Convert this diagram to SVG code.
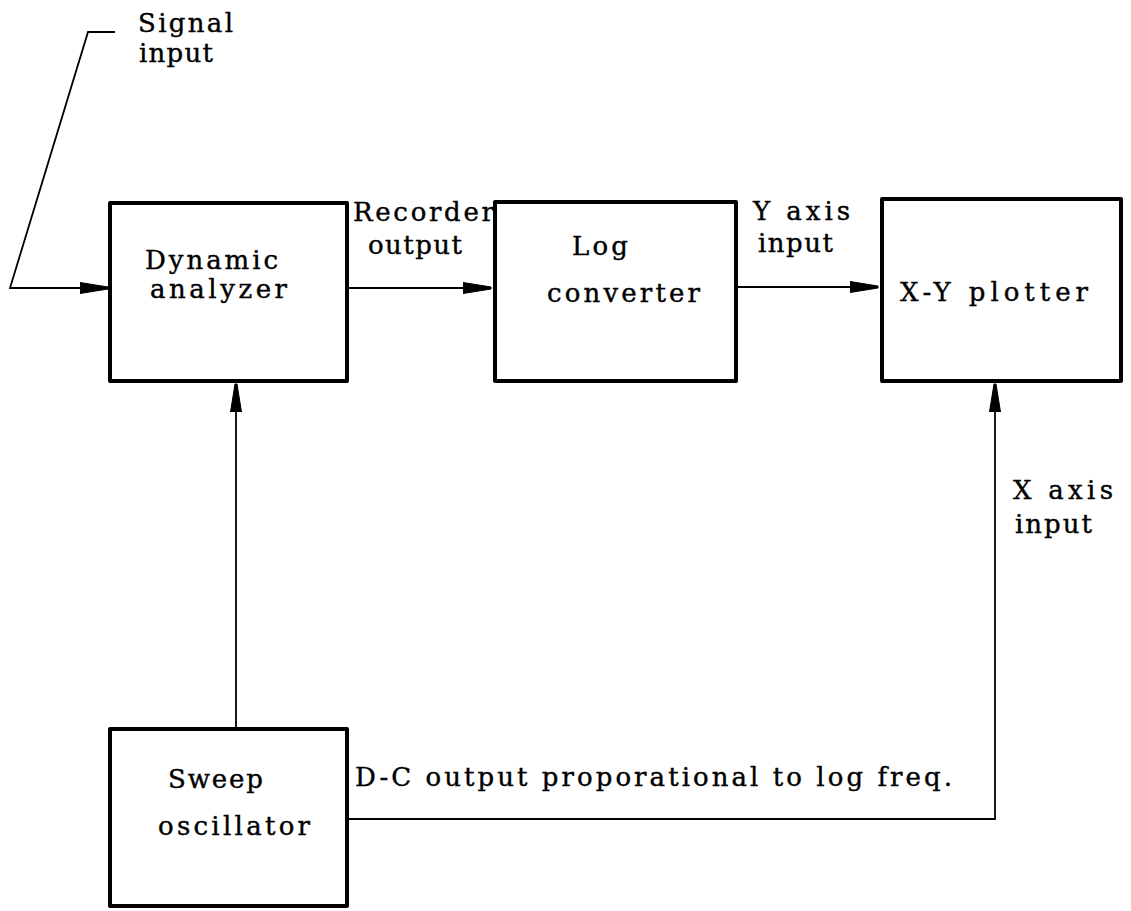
<svg xmlns="http://www.w3.org/2000/svg" width="1131" height="911" viewBox="0 0 1131 911">
<style>
.box{fill:none;stroke:#000;stroke-width:4;stroke-linejoin:round}
.wire{fill:none;stroke:#000;stroke-width:1.8}
text{font-family:"DejaVu Serif","Liberation Serif",serif;font-size:26px;fill:#000;stroke:#000;stroke-width:0.4}
</style>
<defs>
<marker id="arr" markerUnits="userSpaceOnUse" markerWidth="30" markerHeight="16" viewBox="0 0 30 16" refX="28" refY="8" orient="auto">
<path d="M0,2.5 L28,7 L28,9 L0,13.5 Z" fill="#000" stroke="#000" stroke-width="1"/>
</marker>
</defs>
<rect width="1131" height="911" fill="#fff"/>
<g id="connectors">
<path class="wire" d="M115,32 L88,32 L10,288 L108,288" marker-end="url(#arr)"/>
<path class="wire" d="M348,288 L491,288" marker-end="url(#arr)"/>
<path class="wire" d="M737,287 L878,287" marker-end="url(#arr)"/>
<path class="wire" d="M236,727 L236,384" marker-end="url(#arr)"/>
<path class="wire" d="M348,819 L995,819 L995,384" marker-end="url(#arr)"/>
<text x="138" y="32" textLength="95" lengthAdjust="spacing">Signal</text>
<text x="139" y="62" textLength="74" lengthAdjust="spacing">input</text>
<text x="353" y="221" textLength="141" lengthAdjust="spacing">Recorder</text>
<text x="368" y="254" textLength="94" lengthAdjust="spacing">output</text>
<text x="753" y="220" textLength="97" lengthAdjust="spacing">Y axis</text>
<text x="758" y="252" textLength="75" lengthAdjust="spacing">input</text>
<text x="1013" y="499" textLength="100" lengthAdjust="spacing">X axis</text>
<text x="1015" y="533" textLength="77" lengthAdjust="spacing">input</text>
<text x="355" y="786" textLength="597" lengthAdjust="spacing">D-C output proporational to log freq.</text>
</g>
<g id="dynamic-analyzer">
<rect class="box" x="110" y="203" width="237" height="178"/>
<text x="145" y="269" textLength="133" lengthAdjust="spacing">Dynamic</text>
<text x="150" y="298" textLength="137" lengthAdjust="spacing">analyzer</text>
</g>
<g id="log-converter">
<rect class="box" x="495" y="202" width="241" height="179"/>
<text x="572" y="255" textLength="56" lengthAdjust="spacing">Log</text>
<text x="547" y="302" textLength="153" lengthAdjust="spacing">converter</text>
</g>
<g id="xy-plotter">
<rect class="box" x="882" y="199" width="239" height="182"/>
<text x="900" y="301" textLength="188" lengthAdjust="spacing">X-Y plotter</text>
</g>
<g id="sweep-oscillator">
<rect class="box" x="110" y="729" width="237" height="177"/>
<text x="168" y="788" textLength="95" lengthAdjust="spacing">Sweep</text>
<text x="158" y="835" textLength="152" lengthAdjust="spacing">oscillator</text>
</g>
</svg>
